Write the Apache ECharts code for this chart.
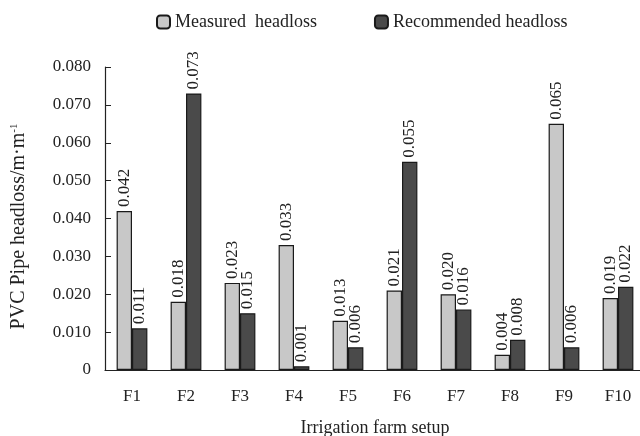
<!DOCTYPE html>
<html><head><meta charset="utf-8">
<script src="https://cdn.jsdelivr.net/npm/echarts@6/dist/echarts.min.js"></script>
<style>html,body{margin:0;padding:0;background:#fff}#c{width:640px;height:436px}</style>
</head><body><div id="c"></div>
<script>
const categories = ['F1','F2','F3','F4','F5','F6','F7','F8','F9','F10'];
const measured = [0.042,0.018,0.023,0.033,0.013,0.021,0.020,0.004,0.065,0.019];
const recommended = [0.011,0.073,0.015,0.001,0.006,0.055,0.016,0.008,0.006,0.022];
const seriesNames = ['Measured  headloss','Recommended headloss'];
const yTicks = {min:0, max:0.08, interval:0.01};

const FONT = '"Liberation Serif", "Times New Roman", serif';
const chart = echarts.init(document.getElementById('c'));
const lbl = {
  show:true, position:'top', rotate:90, align:'left', verticalAlign:'middle', distance:4,
  fontFamily:FONT, fontSize:17, color:'#222',
  formatter: p => p.value.toFixed(3)
};
chart.setOption({
  animation:false,
  textStyle:{fontFamily:FONT},
  legend:{
    top:8, left:151, itemWidth:13, itemHeight:13, itemGap:57,
    textStyle:{fontFamily:FONT, fontSize:18, color:'#222'},
    data:seriesNames
  },
  grid:{left:105, right:-5, top:67, bottom:66, containLabel:false, outerBoundsMode:'none'},
  xAxis:{
    type:'category', data:categories,
    axisLine:{lineStyle:{color:'#222', width:1.2}},
    axisTick:{inside:true, length:7, lineStyle:{color:'#222'}},
    axisLabel:{fontFamily:FONT, fontSize:17, color:'#222', margin:18},
    name:'Irrigation farm setup', nameLocation:'middle', nameGap:49,
    nameTextStyle:{fontFamily:FONT, fontSize:18, color:'#222'}
  },
  yAxis:{
    type:'value', min:yTicks.min, max:yTicks.max, interval:yTicks.interval,
    splitLine:{show:false},
    axisLine:{show:true, lineStyle:{color:'#222', width:1.2}},
    axisTick:{show:true, inside:true, length:6, lineStyle:{color:'#222'}},
    axisLabel:{fontFamily:FONT, fontSize:17, color:'#222', margin:14,
      formatter: v => v === 0 ? '0' : v.toFixed(3)},
    name:'{a|PVC Pipe headloss/m·m}{b|-1}', nameLocation:'middle', nameGap:76, nameRotate:90,
    nameTextStyle:{fontFamily:FONT, fontSize:20, color:'#222', padding:[0,16,0,0],
      rich:{a:{fontFamily:FONT, fontSize:20, color:'#222'},
            b:{fontFamily:FONT, fontSize:11, color:'#222', verticalAlign:'top', padding:[0,0,8,0]}}}
  },
  series:[
    {name:seriesNames[0], type:'bar', data:measured, barGap:'0%', barCategoryGap:'43%',
     itemStyle:{color:'#c8c8c8', borderColor:'#1a1a1a', borderWidth:1.2}, label:lbl},
    {name:seriesNames[1], type:'bar', data:recommended, barGap:'0%', barCategoryGap:'43%',
     itemStyle:{color:'#4a4a4a', borderColor:'#1a1a1a', borderWidth:1.2}, label:lbl}
  ]
});
</script></body></html>
